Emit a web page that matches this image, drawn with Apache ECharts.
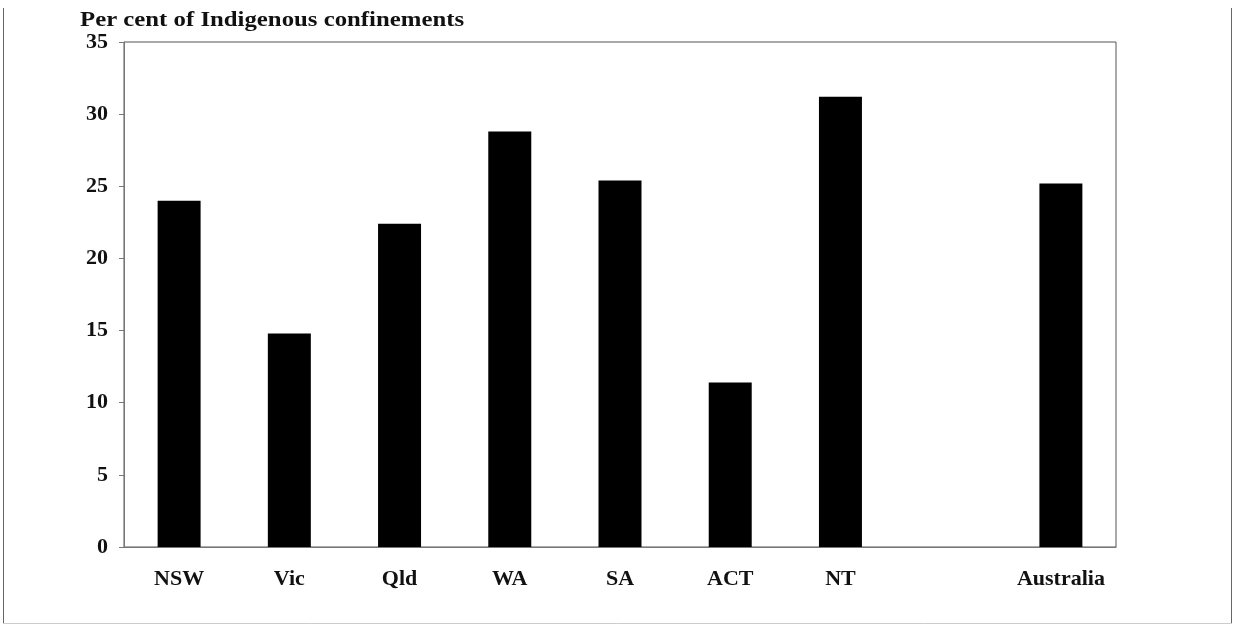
<!DOCTYPE html>
<html><head><meta charset="utf-8">
<script src="https://cdn.jsdelivr.net/npm/echarts@6/dist/echarts.min.js"></script>
<style>html,body{margin:0;padding:0;background:#fff}#c{width:1233px;height:630px}</style>
</head><body><div id="c"></div>
<script>
const categories = ['NSW','Vic','Qld','WA','SA','ACT','NT','','Australia'];
const values = [24.0, 14.8, 22.4, 28.8, 25.4, 11.4, 31.2, null, 25.2];
const yTicks = {min: 0, max: 35, interval: 5};
const titleText = 'Per cent of Indigenous confinements';

const font = '"Liberation Serif", "DejaVu Serif", serif';
const chart = echarts.init(document.getElementById('c'));
chart.setOption({
  animation: false,
  backgroundColor: '#fff',
  grid: {left: 124, right: 117, top: 42, bottom: 83, show: true, borderColor: '#555', borderWidth: 1, backgroundColor: 'transparent'},
  xAxis: {type: 'category', data: categories,
    axisLine: {lineStyle: {color: '#777', width: 1}},
    axisTick: {show: false},
    axisLabel: {fontFamily: font, fontWeight: 'bold', fontSize: 22, color: '#111', margin: 21, interval: 0}},
  yAxis: {type: 'value', min: yTicks.min, max: yTicks.max, interval: yTicks.interval,
    splitLine: {show: false},
    axisLine: {show: true, lineStyle: {color: '#777', width: 1}},
    axisTick: {show: true, length: 5, lineStyle: {color: '#777'}},
    axisLabel: {fontFamily: font, fontWeight: 'bold', fontSize: 22, color: '#111', margin: 16}},
  series: [{type: 'bar', data: values, barWidth: '39%', itemStyle: {color: '#000'}}],
  graphic: [
    {type: 'text', x: 80, y: 21, scaleX: 1.18, scaleY: 1,
      style: {text: titleText, fontFamily: font, fontWeight: 'bold', fontSize: 21, fill: '#111', verticalAlign: 'middle', align: 'left'}},
    {type: 'line', shape: {x1: 3.5, y1: 8, x2: 3.5, y2: 624}, style: {stroke: '#666', lineWidth: 1}},
    {type: 'line', shape: {x1: 1231.5, y1: 8, x2: 1231.5, y2: 624}, style: {stroke: '#666', lineWidth: 1}},
    {type: 'line', shape: {x1: 3, y1: 623.5, x2: 1232, y2: 623.5}, style: {stroke: '#ccc', lineWidth: 1}}
  ]
});
</script></body></html>
